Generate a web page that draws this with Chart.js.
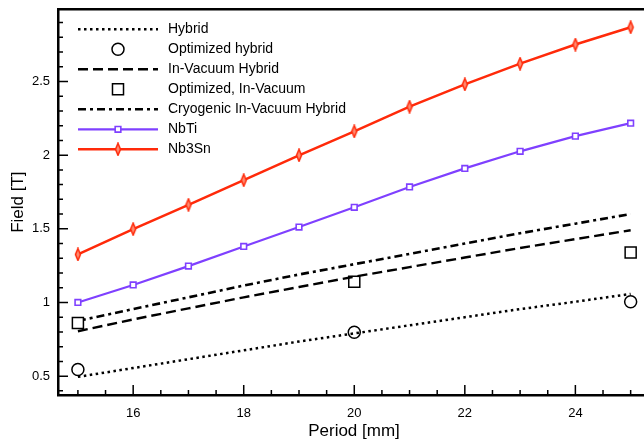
<!DOCTYPE html>
<html>
<head>
<meta charset="utf-8">
<script src="https://cdn.jsdelivr.net/npm/chart.js@4/dist/chart.umd.min.js"></script>
<style>
  html, body { margin: 0; padding: 0; background: #fff; overflow: hidden; }
  body { width: 644px; height: 445px; }
  #wrap { width: 664px; height: 445px; }
</style>
</head>
<body>
<div id="wrap"><canvas id="fieldChart" width="664" height="445"></canvas></div>
<script>
// Values
const periods = [15, 16, 17, 18, 19, 20, 21, 22, 23, 24, 25];
const hybrid = [0.495, 0.555, 0.615, 0.675, 0.735, 0.79, 0.845, 0.90, 0.955, 1.005, 1.058];
const inVacuumHybrid = [0.805, 0.885, 0.96, 1.035, 1.105, 1.175, 1.24, 1.305, 1.37, 1.43, 1.49];
const cryoHybrid = [0.875, 0.955, 1.035, 1.115, 1.19, 1.26, 1.33, 1.40, 1.47, 1.535, 1.60];
const nbti = [1.00, 1.119, 1.247, 1.38, 1.512, 1.646, 1.784, 1.91, 2.026, 2.129, 2.217];
const nb3sn = [1.326, 1.498, 1.663, 1.83, 1.999, 2.161, 2.329, 2.48, 2.621, 2.751, 2.868];

const optPeriods = [15, 20, 25];
const optHybrid = [0.545, 0.798, 1.005];
const optInVacuum = [0.861, 1.141, 1.339];

const xTicks = [16, 18, 20, 22, 24];
const yTicks = [0.5, 1, 1.5, 2, 2.5];

const RED = '#ff2a0a';
const PURPLE = '#7f40ff';
const FONT = '"Liberation Sans", Arial, sans-serif';

function pairs(xs, ys) {
    return xs.map((x, i) => ({ x: x, y: ys[i] }));
}

// narrow diamond used by the Nb3Sn curve
function makeDiamond() {
    const c = document.createElement('canvas');
    c.width = 8; c.height = 14;
    const g = c.getContext('2d');
    g.beginPath();
    g.moveTo(4, 1); g.lineTo(6.5, 7); g.lineTo(4, 13); g.lineTo(1.5, 7); g.closePath();
    g.fillStyle = '#ff8a70';
    g.fill();
    g.lineWidth = 1.5;
    g.strokeStyle = RED;
    g.stroke();
    return c;
}
const diamond = makeDiamond();

// inward tick marks, frame and the in-plot legend
const decorations = {
    id: 'decorations',
    afterDraw(chart) {
        const ctx = chart.ctx;
        const area = chart.chartArea;
        const xs = chart.scales.x, ys = chart.scales.y;
        ctx.save();
        ctx.strokeStyle = '#000';
        ctx.lineWidth = 1.5;
        ctx.beginPath();
        for (let v = 15; v <= 25.01; v += 0.5) {
            const px = xs.getPixelForValue(v);
            const major = xTicks.some(t => Math.abs(t - v) < 1e-6);
            ctx.moveTo(px, area.bottom);
            ctx.lineTo(px, area.bottom - (major ? 10 : 5));
        }
        for (let v = 0.4; v <= 2.95; v += 0.1) {
            const py = ys.getPixelForValue(v);
            const major = yTicks.some(t => Math.abs(t - v) < 1e-6);
            ctx.moveTo(area.left, py);
            ctx.lineTo(area.left + (major ? 10 : 5), py);
        }
        ctx.stroke();

        // top and right frame
        ctx.lineWidth = 2.5;
        ctx.beginPath();
        ctx.moveTo(area.left, area.top);
        ctx.lineTo(area.right, area.top);
        ctx.lineTo(area.right, area.bottom);
        ctx.stroke();

        // legend
        const x0 = area.left + 20, x1 = area.left + 100, xm = (x0 + x1) / 2;
        ctx.font = '14px ' + FONT;
        ctx.textBaseline = 'middle';
        chart.data.datasets.forEach((ds, i) => {
            const y = area.top + 20 + i * 20;
            if (ds.showLine !== false) {
                ctx.save();
                ctx.strokeStyle = ds.borderColor;
                ctx.lineWidth = ds.borderWidth;
                ctx.setLineDash(ds.borderDash || []);
                ctx.beginPath();
                ctx.moveTo(x0, y);
                ctx.lineTo(x1, y);
                ctx.stroke();
                ctx.restore();
            }
            if (ds.pointRadius > 0) {
                ctx.fillStyle = ds.pointBackgroundColor;
                ctx.strokeStyle = ds.pointBorderColor;
                ctx.lineWidth = ds.pointBorderWidth;
                ctx.setLineDash([]);
                if (ds.pointStyle instanceof HTMLCanvasElement) {
                    ctx.drawImage(ds.pointStyle, xm - ds.pointStyle.width / 2, y - ds.pointStyle.height / 2);
                } else {
                    ctx.beginPath();
                    if (ds.pointStyle === 'circle') {
                        ctx.arc(xm, y, ds.pointRadius, 0, Math.PI * 2);
                    } else {
                        const s = ds.pointRadius * Math.SQRT1_2;
                        ctx.rect(xm - s, y - s, 2 * s, 2 * s);
                    }
                    ctx.fill();
                    ctx.stroke();
                }
            }
            ctx.fillStyle = '#000';
            ctx.fillText(ds.label, area.left + 110, y);
        });
        ctx.restore();
    }
};

const lineOnly = { pointRadius: 0, pointHoverRadius: 0, fill: false, tension: 0 };

new Chart(document.getElementById('fieldChart'), {
    type: 'scatter',
    data: {
        datasets: [
            Object.assign({ label: 'Hybrid', data: pairs(periods, hybrid), showLine: true,
                borderColor: '#000', borderWidth: 2.5, borderDash: [2.5, 3.5] }, lineOnly),
            { label: 'Optimized hybrid', data: pairs(optPeriods, optHybrid), showLine: false,
                pointStyle: 'circle', pointRadius: 6, pointBorderWidth: 1.5,
                pointBorderColor: '#000', pointBackgroundColor: '#fff' },
            Object.assign({ label: 'In-Vacuum Hybrid', data: pairs(periods, inVacuumHybrid), showLine: true,
                borderColor: '#000', borderWidth: 2.4, borderDash: [10, 5] }, lineOnly),
            { label: 'Optimized, In-Vacuum', data: pairs(optPeriods, optInVacuum), showLine: false,
                pointStyle: 'rect', pointRadius: 7.8, pointBorderWidth: 1.5,
                pointBorderColor: '#000', pointBackgroundColor: '#fff' },
            Object.assign({ label: 'Cryogenic In-Vacuum Hybrid', data: pairs(periods, cryoHybrid), showLine: true,
                borderColor: '#000', borderWidth: 2.6, borderDash: [8, 4, 3, 4] }, lineOnly),
            { label: 'NbTi', data: pairs(periods, nbti), showLine: true,
                borderColor: PURPLE, borderWidth: 2.2, tension: 0,
                pointStyle: 'rect', pointRadius: 4, pointBorderWidth: 1.6,
                pointBorderColor: PURPLE, pointBackgroundColor: '#fff' },
            { label: 'Nb3Sn', data: pairs(periods, nb3sn), showLine: true,
                borderColor: RED, borderWidth: 2.5, tension: 0,
                pointStyle: diamond, pointRadius: 5, pointBorderWidth: 1.5,
                pointBorderColor: RED, pointBackgroundColor: '#ff8a70' }
        ]
    },
    options: {
        responsive: false,
        animation: false,
        devicePixelRatio: 1,
        layout: { padding: { top: 2, right: 14, left: 0, bottom: 0 } },
        plugins: { legend: { display: false }, tooltip: { enabled: false } },
        scales: {
            x: {
                type: 'linear',
                min: 14.64,
                max: 25.35,
                afterFit(scale) { scale.height = 50; scale.paddingLeft = 0; scale.paddingRight = 0; },
                afterBuildTicks(scale) { scale.ticks = xTicks.map(v => ({ value: v })); },
                grid: { display: false, drawTicks: false },
                border: { display: true, color: '#000', width: 2.5 },
                ticks: { color: '#000', padding: 11, callback: v => String(v), font: { family: FONT, size: 13 } },
                title: { display: true, text: 'Period [mm]', color: '#000', padding: { top: 0, bottom: 3 },
                    font: { family: FONT, size: 17 } }
            },
            y: {
                type: 'linear',
                min: 0.372,
                max: 2.99,
                afterFit(scale) { scale.width = 58; scale.paddingTop = 0; scale.paddingBottom = 0; },
                afterBuildTicks(scale) { scale.ticks = yTicks.map(v => ({ value: v })); },
                grid: { display: false, drawTicks: false },
                border: { display: true, color: '#000', width: 2.5 },
                ticks: { color: '#000', padding: 8, callback: v => String(v), font: { family: FONT, size: 13 } },
                title: { display: true, text: 'Field [T]', color: '#000', padding: { top: 8, bottom: 0 },
                    font: { family: FONT, size: 17 } }
            }
        }
    },
    plugins: [decorations]
});
</script>
</body>
</html>
